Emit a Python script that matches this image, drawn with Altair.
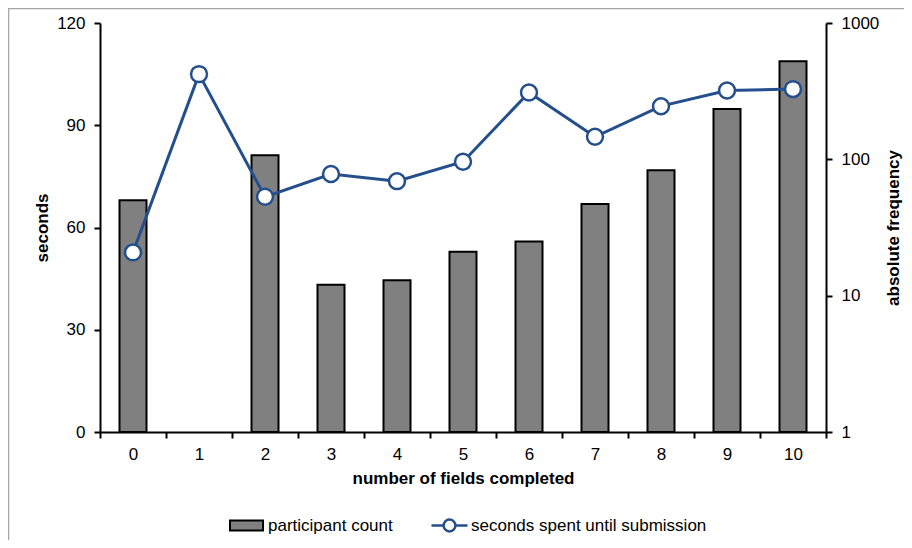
import altair as alt
import pandas as pd

# ---- data ----
fields = ["0", "1", "2", "3", "4", "5", "6", "7", "8", "9", "10"]
participant_count = [50, None, 107, 12, 13, 21, 25, 47, 83, 234, 524]
seconds_spent = [52.7, 105.0, 69.0, 75.7, 73.6, 79.3, 99.6, 86.6, 95.6, 100.2, 100.6]
bar_label = "participant count"
line_label = "seconds spent until submission"
seconds_ticks = [0, 30, 60, 90, 120]
count_ticks = [1, 10, 100, 1000]

df = pd.DataFrame({
    "fields": fields,
    "count": participant_count,
    "seconds": seconds_spent,
    "base": [1] * len(fields),
    "bar_series": [bar_label] * len(fields),
    "line_series": [line_label] * len(fields),
})

FONT = "Liberation Sans"
BLUE = "#254F8C"
FS = 17

x_enc = alt.X(
    "fields:O",
    sort=fields,
    scale=alt.Scale(paddingInner=0, paddingOuter=0),
    axis=alt.Axis(
        title="number of fields completed",
        labelAngle=0,
        tickBand="extent",
        tickSize=6,
        labelPadding=8,
        titlePadding=8,
    ),
)

bars = alt.Chart(df).mark_bar(size=27, stroke="black", strokeWidth=2).encode(
    x=x_enc,
    y=alt.Y(
        "count:Q",
        scale=alt.Scale(type="log", domain=[1, 1000]),
        axis=alt.Axis(
            title="absolute frequency",
            orient="right",
            values=count_ticks,
            format="d",
            tickSize=6,
            labelPadding=9,
            titlePadding=7,
            titleAngle=270,
            titleBaseline="top",
        ),
    ),
    y2="base:Q",
    fill=alt.Fill(
        "bar_series:N",
        scale=alt.Scale(range=["#808080"]),
        legend=alt.Legend(
            title=None,
            orient="none",
            legendX=129,
            legendY=485,
            padding=0,
            symbolType="M-1,-0.3H1V0.3H-1Z",
            symbolSize=1089,
            symbolStrokeColor="black",
            symbolStrokeWidth=2,
            symbolFillColor="#808080",
            labelOffset=4,
            labelLimit=0,
            labelFontSize=FS,
            labelFont=FONT,
            labelColor="black",
        ),
    ),
)

line = alt.Chart(df).mark_line(
    strokeWidth=3,
    point=alt.OverlayMarkDef(filled=True, fill="white", size=254, strokeWidth=2.5, stroke=BLUE),
).encode(
    x=x_enc,
    y=alt.Y(
        "seconds:Q",
        scale=alt.Scale(domain=[0, 120]),
        axis=alt.Axis(
            title="seconds",
            orient="left",
            values=seconds_ticks,
            tickSize=6,
            labelPadding=9,
            titlePadding=5,
        ),
    ),
    stroke=alt.Stroke(
        "line_series:N",
        scale=alt.Scale(range=[BLUE]),
        legend=alt.Legend(
            title=None,
            orient="none",
            legendX=330,
            legendY=483,
            padding=0,
            symbolType="M-1,0H-0.33M0.33,0H1M-0.33,0A0.33,0.33 0 1,0 0.33,0A0.33,0.33 0 1,0 -0.33,0",
            symbolSize=1296,
            symbolStrokeWidth=2.5,
            symbolFillColor="white",
            labelOffset=2,
            labelLimit=0,
            labelFontSize=FS,
            labelFont=FONT,
            labelColor="black",
        ),
    ),
)

frame_df = pd.DataFrame({"k": [0]})
frame_left = alt.Chart(frame_df).mark_rule(color="#a6a6a6", strokeWidth=1.5).encode(
    x=alt.value(-91.5), y=alt.value(-15), y2=alt.value(525)
)
frame_top = alt.Chart(frame_df).mark_rule(color="#a6a6a6", strokeWidth=1.5).encode(
    x=alt.value(-92), x2=alt.value(804), y=alt.value(-14.5)
)

chart = (
    alt.layer(frame_left, frame_top, bars, line)
    .resolve_scale(y="independent", fill="independent", stroke="independent")
    .properties(
        width=726,
        height=409,
        autosize=alt.AutoSizeParams(type="none"),
        padding={"left": 92, "top": 15, "right": 78, "bottom": 108},
        background="white",
    )
    .configure_view(strokeWidth=0)
    .configure_axis(
        grid=False,
        domainColor="black",
        domainWidth=2,
        tickColor="black",
        tickWidth=2,
        labelFont=FONT,
        labelFontSize=FS,
        labelColor="black",
        titleFont=FONT,
        titleFontSize=FS,
        titleFontWeight="bold",
        titleColor="black",
    )
)

chart.save("out.html", embed_options={"renderer": "svg", "actions": False})
